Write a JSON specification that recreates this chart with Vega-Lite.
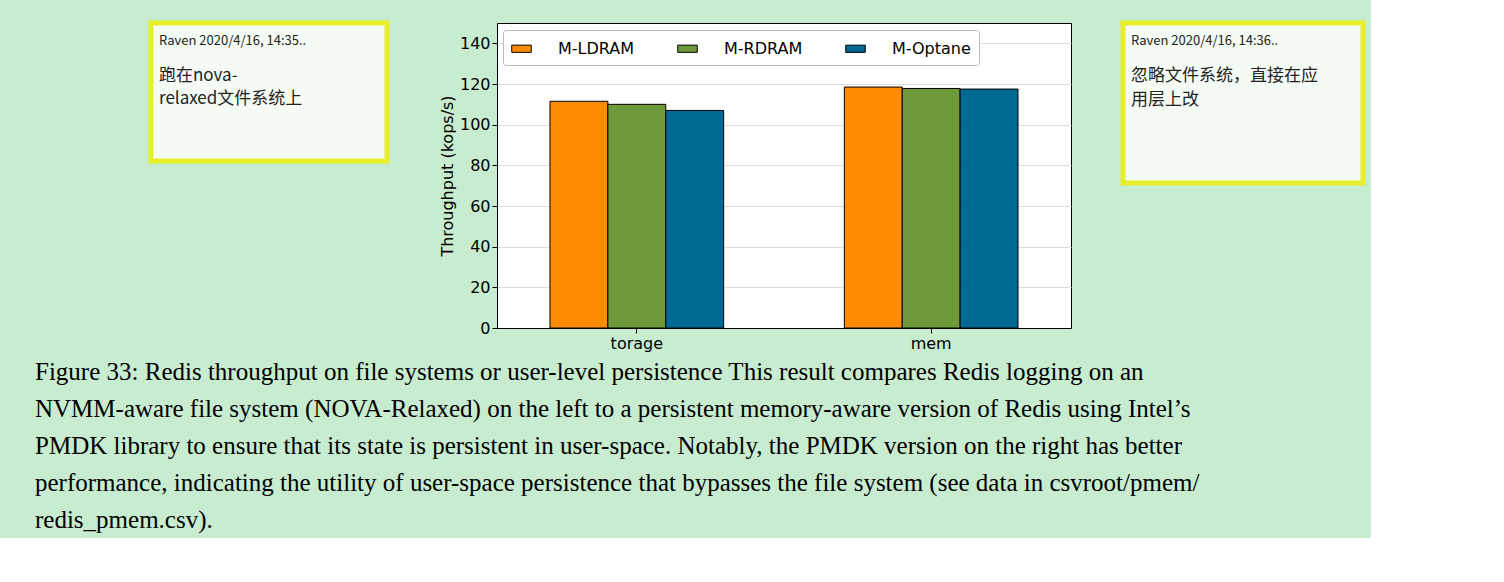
{
  "$schema": "https://vega.github.io/schema/vega-lite/v6.json",
  "background": "#c8ecd0",
  "padding": {"left": 35, "top": 20, "right": 5, "bottom": 5},
  "spacing": 48,
  "resolve": {"scale": {"color": "independent", "y": "independent"}, "legend": {"color": "independent"}},
  "title": {
    "text": [
      "Figure 33: Redis throughput on file systems or user-level persistence This result compares Redis logging on an",
      "NVMM-aware file system (NOVA-Relaxed) on the left to a persistent memory-aware version of Redis using Intel’s",
      "PMDK library to ensure that its state is persistent in user-space. Notably, the PMDK version on the right has better",
      "performance, indicating the utility of user-space persistence that bypasses the file system (see data in csvroot/pmem/",
      "redis_pmem.csv)."
    ],
    "orient": "bottom",
    "anchor": "start",
    "offset": 8,
    "font": "Liberation Serif",
    "fontSize": 25,
    "fontWeight": "normal",
    "lineHeight": 37,
    "color": "#000000"
  },
  "hconcat": [
    {
      "width": 65,
      "height": 10,
      "view": {"fill": null, "stroke": null},
      "data": {"values": [{"line": ""}]},
      "mark": {"type": "text"},
      "encoding": {"text": {"field": "line"}}
    },
    {
      "width": 236,
      "height": 138,
      "view": {"fill": "#f4fbf5", "stroke": "#e6ef2a", "strokeWidth": 5},
      "data": {"values": [
        {"row": 0.8, "line": "Raven 2020/4/16, 14:35..", "kind": "head"},
        {"row": 2.3, "line": "跑在nova-", "kind": "body"},
        {"row": 3.3, "line": "relaxed文件系统上", "kind": "body"}
      ]},
      "mark": {"type": "text", "align": "left", "baseline": "middle", "font": "Noto Sans CJK SC", "color": "#222222"},
      "encoding": {
        "x": {"value": 8},
        "y": {"field": "row", "type": "quantitative", "axis": null, "scale": {"domain": [0, 6], "reverse": true, "nice": false}},
        "text": {"field": "line"},
        "size": {"condition": {"test": "datum.kind == 'head'", "value": 13}, "value": 17}
      }
    },
    {
      "width": 574,
      "height": 305,
      "view": {"fill": "#ffffff", "stroke": "#000000"},
      "data": {"values": [
        {"workload": "torage", "config": "M-LDRAM", "kops": 111.5},
        {"workload": "torage", "config": "M-RDRAM", "kops": 110},
        {"workload": "torage", "config": "M-Optane", "kops": 107},
        {"workload": "mem", "config": "M-LDRAM", "kops": 118.5},
        {"workload": "mem", "config": "M-RDRAM", "kops": 117.8},
        {"workload": "mem", "config": "M-Optane", "kops": 117.5}
      ]},
      "mark": {"type": "bar", "stroke": "#000000", "strokeWidth": 1},
      "encoding": {
        "x": {"field": "workload", "type": "nominal", "sort": ["torage", "mem"], "title": null,
              "scale": {"paddingInner": 0.41, "paddingOuter": 0.18},
              "axis": {"labelAngle": 0, "labelFontSize": 16, "labelColor": "#000", "domainColor": "#000", "tickColor": "#000", "labelFont": "DejaVu Sans", "grid": false}},
        "xOffset": {"field": "config", "type": "nominal", "sort": ["M-LDRAM", "M-RDRAM", "M-Optane"]},
        "y": {"field": "kops", "type": "quantitative", "title": "Throughput (kops/s)",
              "scale": {"domain": [0, 150], "nice": false},
              "axis": {"values": [0, 20, 40, 60, 80, 100, 120, 140], "labelFontSize": 16, "titleFontSize": 16, "titleFontWeight": "normal", "labelFont": "DejaVu Sans", "titleFont": "DejaVu Sans", "labelColor": "#000", "titleColor": "#000", "domainColor": "#000", "tickColor": "#000", "gridColor": "#dddddd", "grid": true}},
        "color": {"field": "config", "type": "nominal", "sort": ["M-LDRAM", "M-RDRAM", "M-Optane"],
                  "scale": {"domain": ["M-LDRAM", "M-RDRAM", "M-Optane"], "range": ["#ff8c00", "#6e9a3c", "#006994"]},
                  "legend": {"title": null, "orient": "none", "legendX": 6, "legendY": 7, "direction": "horizontal", "columns": 3, "columnPadding": 40,
                             "symbolType": "M-1,-0.37H1V0.37H-1Z", "symbolSize": 380, "symbolStrokeColor": "#000", "symbolStrokeWidth": 1, "labelOffset": 26,
                             "labelFontSize": 16, "labelFont": "DejaVu Sans", "labelColor": "#000",
                             "strokeColor": "#bbbbbb", "padding": 8, "cornerRadius": 3, "fillColor": "#ffffff"}}
      }
    },
    {
      "width": 240,
      "height": 160,
      "view": {"fill": "#f4fbf5", "stroke": "#e6ef2a", "strokeWidth": 5},
      "data": {"values": [
        {"row": 0.67, "line": "Raven 2020/4/16, 14:36..", "kind": "head"},
        {"row": 2.0, "line": "忽略文件系统，直接在应", "kind": "body"},
        {"row": 2.9, "line": "用层上改", "kind": "body"}
      ]},
      "mark": {"type": "text", "align": "left", "baseline": "middle", "font": "Noto Sans CJK SC", "color": "#222222"},
      "encoding": {
        "x": {"value": 8},
        "y": {"field": "row", "type": "quantitative", "axis": null, "scale": {"domain": [0, 6], "reverse": true, "nice": false}},
        "text": {"field": "line"},
        "size": {"condition": {"test": "datum.kind == 'head'", "value": 13}, "value": 17}
      }
    }
  ]
}
